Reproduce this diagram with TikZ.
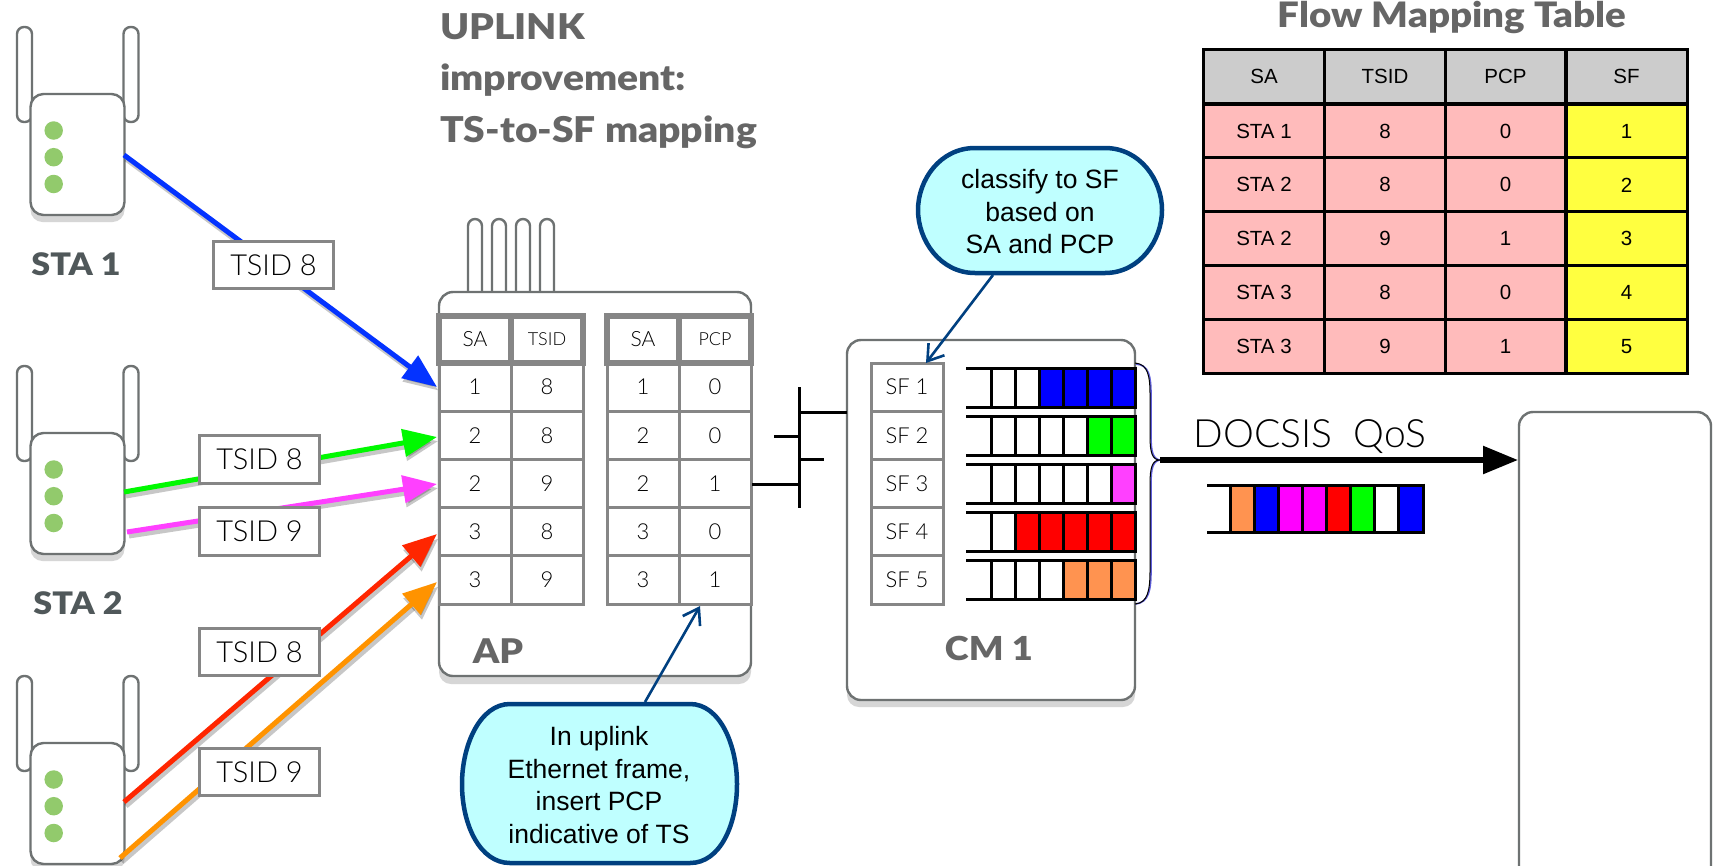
\documentclass[tikz,border=0pt]{standalone}
\usepackage{fontspec}
\setmainfont{Liberation Sans}
\newfontfamily\lightf{Lato Light}
\newfontfamily\heavyf[FakeStretch=1.1]{Lato Black}
\usetikzlibrary{arrows.meta}
\definecolor{edgegray}{HTML}{6E7272}
\definecolor{cellgray}{HTML}{868686}
\definecolor{headgray}{HTML}{666666}
\definecolor{stagray}{HTML}{50585A}
\definecolor{shadowgray}{HTML}{D6D6D6}
\definecolor{ledgreen}{HTML}{92CA6C}
\definecolor{navy}{HTML}{004080}
\definecolor{callfill}{HTML}{BFFFFF}
\definecolor{pinkcell}{HTML}{FFBBBB}
\definecolor{yellowcell}{HTML}{FFFF40}
\definecolor{greycell}{HTML}{CCCCCC}
\definecolor{qorange}{HTML}{FF9350}
\definecolor{qblue}{HTML}{0000FF}
\definecolor{qgreen}{HTML}{00FF00}
\definecolor{qred}{HTML}{FF0000}
\definecolor{qmag}{HTML}{FF00FF}
\definecolor{wblue}{HTML}{0433FF}
\definecolor{wgreen}{HTML}{00F900}
\definecolor{wmag}{HTML}{FF40FF}
\definecolor{wred}{HTML}{FF2600}
\definecolor{worange}{HTML}{FF9300}
\tikzset{
  x=1pt,y=-1pt,
  body/.style={draw=edgegray,line width=2.4pt,fill=white,rounded corners=#1,inner sep=0pt},
  body/.default=13pt,
  shadowbox/.style={fill=shadowgray,rounded corners=12pt,inner sep=0pt},
  antenna/.style={draw=edgegray,line width=2.4pt,fill=white,rounded corners=7pt,inner sep=0pt},
  led/.style={fill=ledgreen,circle,inner sep=0pt,minimum size=18.5pt},
  stalabel/.style={text=stagray,font=\heavyf\fontsize{31}{31}\selectfont},
  headline/.style={text=headgray,font=\heavyf\fontsize{35.5}{51.5}\selectfont,align=left,anchor=west,inner sep=0pt},
  tsidbox/.style={draw=cellgray,line width=2.8pt,fill=white,minimum width=120pt,minimum height=47.5pt,inner sep=0pt,font=\lightf\fontsize{29}{29}\selectfont},
  cellbox/.style={draw=cellgray,line width=3pt,fill=white,minimum width=72pt,minimum height=48.2pt,inner sep=0pt,font=\lightf\fontsize{22}{22}\selectfont},
  hdrbox/.style={draw=cellgray,line width=5.5pt,fill=white,minimum width=72pt,minimum height=47pt,inner sep=0pt,font=\lightf\fontsize{21}{21}\selectfont},
  busline/.style={draw=black,line width=3pt},
  qline/.style={draw=black,line width=3pt},
  flowcell/.style={draw=black,line width=3pt,inner sep=0pt,minimum height=54pt,font=\fontsize{20.5}{20.5}\selectfont},
  callshape/.style={draw=navy,line width=4.5pt,fill=callfill},
  calltext/.style={font=\fontsize{26.5}{32.5}\selectfont,align=center,inner sep=0pt},
  callarrow/.style={draw=navy,line width=2.6pt,-{Straight Barb[length=15pt,width=20pt,line width=2.6pt]}},
  bigarrow/.style={draw=black,line width=5.5pt,-{Triangle[length=35pt,width=27pt]}},
}
% wire: colour, from, to
\newcommand{\wirepath}[3]{%
  \draw[black,opacity=.22,line width=5pt,-{Triangle[length=34pt,width=27pt]},shorten >=1pt,transform canvas={shift={(2pt,-4pt)}}] (#2) -- (#3);
  \draw[#1,line width=5pt,-{Triangle[length=34pt,width=27pt]}] (#2) -- (#3);
}
% station: name, vertical offset
\newcommand{\stationunit}[2]{%
  \begin{scope}[yshift=-#2pt]
    \node[antenna,minimum width=15pt,minimum height=95pt] (#1al) at (24.5,74.5) {};
    \node[antenna,minimum width=15pt,minimum height=95pt] (#1ar) at (131,74.5) {};
    \node[shadowbox,minimum width=94pt,minimum height=121pt] (#1s) at (77.5,161.5) {};
    \node[body,minimum width=94pt,minimum height=121pt] (#1) at (77.5,154.5) {};
    \node[led] (#1a) at (53.7,130.5) {};
    \node[led] (#1b) at (53.7,157.2) {};
    \node[led] (#1c) at (53.7,184) {};
  \end{scope}}
\begin{document}
\begin{tikzpicture}
\useasboundingbox (0,0) rectangle (1720,865);
\fill[white] (0,0) rectangle (1720,865);

% stations
\stationunit{staone}{0}
\stationunit{statwo}{339}
\stationunit{stathree}{649}
\node[stalabel] (staonel) at (76,264) {STA 1};
\node[stalabel] (statwol) at (78,603) {STA 2};

% headline
\node[headline] (headl) at (440,81) {UPLINK\\improvement:\\TS-to-SF mapping};

% AP
\foreach \i/\x in {1/475,2/499,3/523,4/547}{
  \node[antenna,minimum width=14pt,minimum height=80pt] (apa\i) at (\x,259) {};
}
\node[shadowbox,minimum width=312pt,minimum height=384pt] (aps) at (595,492) {};
\node[body=14pt,minimum width=312pt,minimum height=384pt] (ap) at (595,484) {};
\node[text=headgray,font=\heavyf\fontsize{34}{34}\selectfont] (aplabel) at (498,651) {AP};

% AP tables
\foreach \n/\x/\a/\b/\c/\d/\e in {a/475/1/2/2/3/3,b/547/8/8/9/8/9,c/643/1/2/2/3/3,d/715/0/0/1/0/1}{
  \foreach \r/\v in {1/\a,2/\b,3/\c,4/\d,5/\e}{
    \node[cellbox] (\n\r) at (\x,{363+48.2*(\r-.5)}) {\v};
  }
}
\node[hdrbox] (ha) at (475,339.5) {SA};
\node[hdrbox,font=\lightf\fontsize{18}{18}\selectfont] (hb) at (547,339.5) {TSID};
\node[hdrbox] (hc) at (643,339.5) {SA};
\node[hdrbox,font=\lightf\fontsize{18}{18}\selectfont] (hd) at (715,339.5) {PCP};

% CM
\node[shadowbox,minimum width=288pt,minimum height=360pt] (cms) at (991,527) {};
\node[body=14pt,minimum width=288pt,minimum height=360pt] (cm) at (991,520) {};
\node[text=headgray,font=\heavyf\fontsize{33}{33}\selectfont] (cmlabel) at (989,648) {CM 1};
\foreach \r in {1,...,5}{
  \node[cellbox] (sf\r) at (907,{363+48.2*(\r-.5)}) {SF \r};
}

% bus between AP and CM
\coordinate (bustop) at (799,387);
\coordinate (busbot) at (799,508);
\coordinate (busa) at (799,412);
\coordinate (busb) at (799,436);
\coordinate (busc) at (799,459);
\coordinate (busd) at (799,484);
\coordinate (stubb) at (774,436);
\coordinate (stubc) at (824,459);
\coordinate (cmport) at (847,412);
\coordinate (apport) at (752,484);
\draw[busline] (bustop) -- (busbot);
\draw[busline] (busa) -- (cmport);
\draw[busline] (stubb) -- (busb);
\draw[busline] (busc) -- (stubc);
\draw[busline] (apport) -- (busd);

% queues in CM: top y, first filled cell, colour
\foreach \t/\f/\c in {368/2/qblue,416/4/qgreen,464/5/wmag,512/1/qred,560/3/qorange}{
  \fill[\c] ({991+24*\f},\t) rectangle (1135,\t+39);
  \draw[qline] (966,\t) -- (1135,\t);
  \draw[qline] (966,\t+39) -- (1135,\t+39);
  \foreach \k in {0,...,6}{
    \draw[qline] ({991+24*\k},\t) -- ({991+24*\k},\t+39);
  }
  \draw[qline] (1135,\t-1.5) -- (1135,\t+40.5);
}

% brace
\coordinate (bracetip) at (1160,460);
\draw[color={rgb,255:red,96;green,96;blue,220},line width=1.6pt] (1136,364) .. controls (1149,365) and (1151,376) .. (1151,395) -- (1151,436) .. controls (1151,452) and (1153,459) .. (1160,460) .. controls (1153,461) and (1151,468) .. (1151,484) -- (1151,570) .. controls (1151,590) and (1149,602) .. (1136,604);
\draw[black,line width=1pt] (1135,363) .. controls (1148,364) and (1150,376) .. (1150,395) -- (1150,436) .. controls (1150,452) and (1152,460) .. (1160,460) .. controls (1152,460) and (1150,468) .. (1150,484) -- (1150,570) .. controls (1150,590) and (1148,603) .. (1135,604);

% main arrow + big box
\node[draw=edgegray,line width=2.4pt,fill=white,rounded corners=14pt,minimum width=192pt,minimum height=500pt,inner sep=0pt] (cmts) at (1615,662) {};
\coordinate (cmtsport) at (1518,460);
\draw[bigarrow] (bracetip) -- (cmtsport);
\node[font=\lightf\fontsize{39}{39}\selectfont] (docsis) at (1310,437) {DOCSIS\ \ QoS};

% output queue
\foreach \k/\c in {0/qorange,1/qblue,2/qmag,3/qmag,4/qred,5/qgreen,6/white,7/qblue}{
  \fill[\c] ({1230+24.1*\k},485) rectangle ({1230+24.1*(\k+1)},532);
  \draw[qline] ({1230+24.1*\k},485) -- ({1230+24.1*\k},532);
}
\draw[qline] (1207,485) -- (1424,485);
\draw[qline] (1207,532) -- (1424,532);
\draw[qline] (1423,483.5) -- (1423,533.5);

% wires
\coordinate (wa) at (124,155);
\coordinate (wb) at (124,492);
\coordinate (wc) at (127,532);
\coordinate (wd) at (124,802);
\coordinate (we) at (120,858);
\coordinate (ta) at (437,387);
\coordinate (tb) at (437,437);
\coordinate (tc) at (437,484);
\coordinate (td) at (437,534);
\coordinate (te) at (437,582);
\wirepath{wblue}{wa}{ta}
\wirepath{wgreen}{wb}{tb}
\wirepath{wmag}{wc}{tc}
\wirepath{wred}{wd}{td}
\wirepath{worange}{we}{te}
\node[tsidbox] (ts1) at (273.5,265) {TSID 8};
\node[tsidbox] (ts2) at (259.5,459.5) {TSID 8};
\node[tsidbox] (ts3) at (259.5,531.5) {TSID 9};
\node[tsidbox] (ts4) at (259.5,652) {TSID 8};
\node[tsidbox] (ts5) at (259.5,772) {TSID 9};

% flow table
\node[text=headgray,font=\heavyf\fontsize{35}{35}\selectfont,anchor=base] (flowt) at (1452,27) {Flow Mapping Table};
\foreach \x/\w/\a/\b/\c/\d/\e/\h/\colr in {
  1264/121/STA 1/STA 2/STA 2/STA 3/STA 3/SA/pinkcell,
  1385/121/8/8/9/8/9/TSID/pinkcell,
  1505.5/120/0/0/1/0/1/PCP/pinkcell,
  1626.5/121/1/2/3/4/5/SF/yellowcell}{
  \node[flowcell,fill=greycell,minimum width=\w pt] (fh\x) at (\x,76.5) {\h};
  \foreach \r/\v in {0/\a,1/\b,2/\c,3/\d,4/\e}{
    \node[flowcell,fill=\colr,minimum width=\w pt] (f\x r\r) at (\x,{131+53.9*\r}) {\v};
  }
}

% callouts
\path[callshape] (975,148) -- (1105,148) .. controls (1140,148) and (1162,180) .. (1162,210) .. controls (1162,240) and (1140,273) .. (1105,273) -- (975,273) .. controls (940,273) and (918,240) .. (918,210) .. controls (918,180) and (940,148) .. (975,148) -- cycle;
\node[calltext] (callb) at (1040,212) {classify to SF\\based on\\SA and PCP};
\coordinate (callbout) at (993,275);
\coordinate (sfin) at (926,363);
\draw[callarrow] (callbout) -- (sfin);

\path[callshape] (510,704) -- (690,704) .. controls (720,704) and (737,745) .. (737,784) .. controls (737,825) and (720,863) .. (690,863) -- (510,863) .. controls (480,863) and (462,825) .. (462,784) .. controls (462,745) and (480,704) .. (510,704) -- cycle;
\node[calltext] (calla) at (599,785) {In uplink\\Ethernet frame,\\insert PCP\\indicative of TS};
\coordinate (callaout) at (645,702);
\coordinate (pcpin) at (700,606);
\draw[callarrow] (callaout) -- (pcpin);
\end{tikzpicture}
\end{document}
